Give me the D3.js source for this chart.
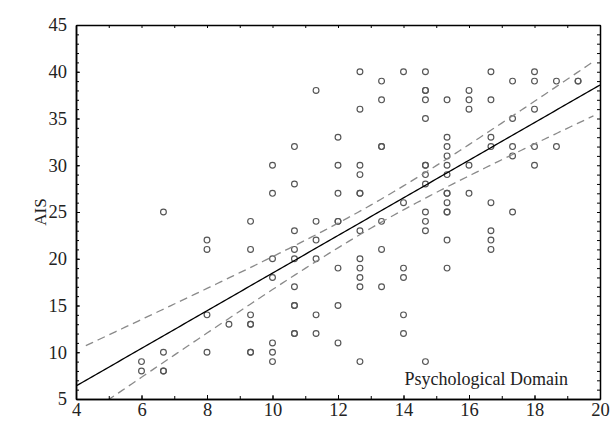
<!DOCTYPE html>
<html>
<head>
<meta charset="utf-8">
<script src="https://cdn.jsdelivr.net/npm/d3@7"></script>
<style>
  body { margin: 0; background: #fff; }
  svg { display: block; }
  text { font-family: "Liberation Serif", "DejaVu Serif", serif; fill: #222; }
</style>
</head>
<body>
<svg id="chart" width="615" height="426"></svg>
<script>
// psychological domain score (x) columns and the AIS scores seen in each column
const domainScores = [6, 6.67, 8, 8.67, 9.33, 10, 10.67, 11.33, 12, 12.67,
    13.33, 14, 14.67, 15.33, 16, 16.67, 17.33, 18, 18.67, 19.33];
const aisScores = [
    [9, 8],
    [25, 10, 8, 8],
    [22, 21, 14, 10],
    [13],
    [24, 21, 14, 13, 13, 10, 10],
    [30, 27, 20, 18, 11, 10, 9],
    [32, 28, 23, 21, 20, 17, 15, 15, 12, 12],
    [38, 24, 22, 20, 14, 12],
    [33, 30, 27, 24, 24, 19, 15, 11],
    [40, 36, 30, 29, 27, 27, 23, 20, 19, 18, 17, 9],
    [39, 37, 32, 32, 24, 21, 17],
    [40, 26, 19, 18, 14, 12],
    [40, 38, 38, 37, 35, 30, 30, 29, 28, 25, 24, 23, 9],
    [37, 33, 32, 31, 30, 29, 27, 27, 26, 25, 25, 22, 19],
    [38, 37, 36, 30, 27],
    [40, 37, 33, 32, 26, 23, 22, 21],
    [39, 35, 32, 31, 25],
    [40, 39, 36, 32, 30],
    [39, 32],
    [39, 39]
];
const xTicks = [4, 6, 8, 10, 12, 14, 16, 18, 20];
const yTicks = [5, 10, 15, 20, 25, 30, 35, 40, 45];
const xLabel = "Psychological Domain";
const yLabel = "AIS";

const svg = d3.select("#chart");
const mLeft = 76, mRight = 600, mTop = 25, mBottom = 399;

const x = d3.scaleLinear().domain([4, 20]).range([mLeft, mRight]);
const y = d3.scaleLinear().domain([5, 45]).range([mBottom, mTop]);

const points = [];
domainScores.forEach((d, i) => aisScores[i].forEach(v => points.push({x: d, y: v})));

// least squares fit + 95% confidence band of the mean
const n = points.length;
const mx = d3.mean(points, d => d.x);
const my = d3.mean(points, d => d.y);
const sxx = d3.sum(points, d => (d.x - mx) ** 2);
const sxy = d3.sum(points, d => (d.x - mx) * (d.y - my));
const slope = sxy / sxx;
const icpt = my - slope * mx;
const sse = d3.sum(points, d => (d.y - icpt - slope * d.x) ** 2);
const se = Math.sqrt(sse / (n - 2));
const tval = 1.979;
const fitX = d3.range(4, 20.001, 0.1);
const band = fitX.map(v => {
    const fit = icpt + slope * v;
    const h = tval * se * Math.sqrt(1 / n + (v - mx) ** 2 / sxx);
    return {x: v, fit: fit, lo: fit - h, hi: fit + h};
});

svg.append("defs").append("clipPath").attr("id", "plot")
    .append("rect").attr("x", mLeft).attr("y", mTop)
    .attr("width", mRight - mLeft).attr("height", mBottom - mTop);

const plot = svg.append("g").attr("clip-path", "url(#plot)");

plot.selectAll("circle")
    .data(points)
    .enter()
    .append("circle")
    .attr("cx", d => x(d.x))
    .attr("cy", d => y(d.y))
    .attr("r", 2.9)
    .attr("fill", "none")
    .attr("stroke", "#555")
    .attr("stroke-width", 1.15);

const bandData = band.filter(d => d.x >= 4.25 && d.x <= 19.8);
["hi", "lo"].forEach(k => {
    plot.append("path")
        .datum(bandData)
        .attr("d", d3.line().x(d => x(d.x)).y(d => y(d[k])))
        .attr("fill", "none")
        .attr("stroke", "#8a8a8a")
        .attr("stroke-width", 1.3)
        .attr("stroke-dasharray", "8,5");
});

plot.append("path")
    .datum(band)
    .attr("d", d3.line().x(d => x(d.x)).y(d => y(d.fit)))
    .attr("fill", "none")
    .attr("stroke", "#000")
    .attr("stroke-width", 1.3);

// frame and ticks (all pointing inward)
function minor(axis, len) {
    return axis.tickSizeInner(len).tickSizeOuter(0).tickFormat("");
}
const axes = svg.append("g").attr("id", "axis");

axes.append("g").attr("transform", "translate(0," + mBottom + ")")
    .call(minor(d3.axisBottom(x).ticks(16), -3));
axes.append("g").attr("transform", "translate(0," + mBottom + ")")
    .call(d3.axisBottom(x).tickValues(xTicks).tickSizeInner(-4).tickSizeOuter(0).tickPadding(4));
axes.append("g").attr("transform", "translate(0," + mTop + ")")
    .call(minor(d3.axisTop(x).ticks(16), -3));
axes.append("g").attr("transform", "translate(" + mLeft + ",0)")
    .call(minor(d3.axisLeft(y).ticks(40), -3));
axes.append("g").attr("transform", "translate(" + mLeft + ",0)")
    .call(d3.axisLeft(y).tickValues(yTicks).tickSizeInner(-4).tickSizeOuter(0).tickPadding(9));
axes.append("g").attr("transform", "translate(" + mRight + ",0)")
    .call(minor(d3.axisRight(y).ticks(40), -3));

axes.selectAll("path.domain").attr("stroke", "#000").attr("stroke-width", 1.5);
axes.selectAll(".tick line").attr("stroke", "#000").attr("stroke-width", 1);
axes.selectAll(".tick text")
    .attr("font-family", "'Liberation Serif', serif")
    .attr("font-size", 18.5)
    .attr("fill", "#222");

svg.append("text")
    .text(yLabel)
    .attr("font-size", 17)
    .attr("text-anchor", "middle")
    .attr("transform", "translate(46," + ((mTop + mBottom) / 2) + ") rotate(-90)");

svg.append("text")
    .text(xLabel)
    .attr("font-size", 18)
    .attr("text-anchor", "end")
    .attr("x", 568)
    .attr("y", 385);
</script>
</body>
</html>
